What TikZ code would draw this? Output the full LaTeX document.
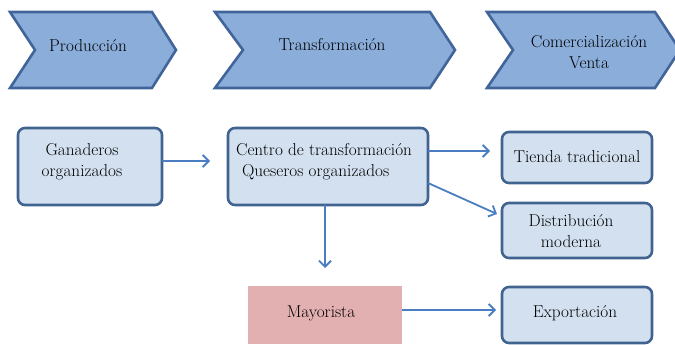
\documentclass[tikz,border=0pt]{standalone}
\usetikzlibrary{arrows.meta}
\definecolor{chevfill}{HTML}{8AADDA}
\definecolor{chevline}{HTML}{41659A}
\definecolor{boxfill}{HTML}{D2E0F0}
\definecolor{boxline}{HTML}{41638F}
\definecolor{arrowc}{HTML}{4A7EC2}
\definecolor{pinkfill}{HTML}{E3B0B1}
\begin{document}
\begin{tikzpicture}[x=1pt,y=-1pt,
  chev/.style={fill=chevfill,draw=chevline,line width=2.6pt,line join=miter},
  rbox/.style={fill=boxfill,draw=boxline,line width=2.6pt,rounded corners=7pt},
  lbl/.style={font=\fontsize{17.2}{21}\selectfont,align=center,inner sep=0pt},
  conn/.style={draw=arrowc,line width=1.8pt,-{Straight Barb[length=6pt,width=12pt,line width=1.8pt]}}]
\useasboundingbox (0,0) rectangle (675,345);
% chevrons
\draw[chev] (10,12) -- (152,12) -- (176,50) -- (152,88) -- (10,88) -- (35,50) -- cycle;
\draw[chev] (215,12) -- (430,12) -- (455,50) -- (430,88) -- (215,88) -- (243,50) -- cycle;
\draw[chev] (487,12) -- (655,12) -- (680,50) -- (655,88) -- (487,88) -- (513,50) -- cycle;
\node[lbl] (p) at (88,46) {Producción};
\node[lbl] (t) at (332,45) {Transformación};
\node[lbl] (c) at (589,52) {Comercialización\\Venta};
% boxes
\draw[rbox] (18,128) rectangle (162,205);
\node[lbl] (gan) at (82,162) {Ganaderos\\organizados};
\coordinate (ganR) at (162,161);
\draw[rbox] (228,128) rectangle (428,205);
\node[lbl,align=left] (cen) at (324,162) {Centro de transformación\\\hspace*{6pt}Queseros organizados};
\coordinate (cenL) at (210,161);
\coordinate (cenR1) at (428,151);
\coordinate (cenR2) at (428,183);
\coordinate (cenB) at (325,205);
\draw[rbox] (502,132) rectangle (652,183);
\node[lbl] (tie) at (577,157) {Tienda tradicional};
\coordinate (tieL) at (490,151);
\draw[rbox] (502,203) rectangle (652,258);
\node[lbl] (dis) at (571,231) {Distribución\\moderna};
\coordinate (disL) at (497,214);
\fill[pinkfill] (248,286) rectangle (402,344);
\node[lbl] (may) at (321,313) {Mayorista};
\coordinate (mayT) at (325,268);
\coordinate (mayR) at (402,310);
\draw[rbox] (502,287) rectangle (652,343);
\node[lbl] (exp) at (575,313) {Exportación};
\coordinate (expL) at (496,310);
% connectors
\draw[conn] (ganR) -- (cenL);
\draw[conn] (cenR1) -- (tieL);
\draw[conn] (cenR2) -- (disL);
\draw[conn] (cenB) -- (mayT);
\draw[conn] (mayR) -- (expL);
\end{tikzpicture}
\end{document}
